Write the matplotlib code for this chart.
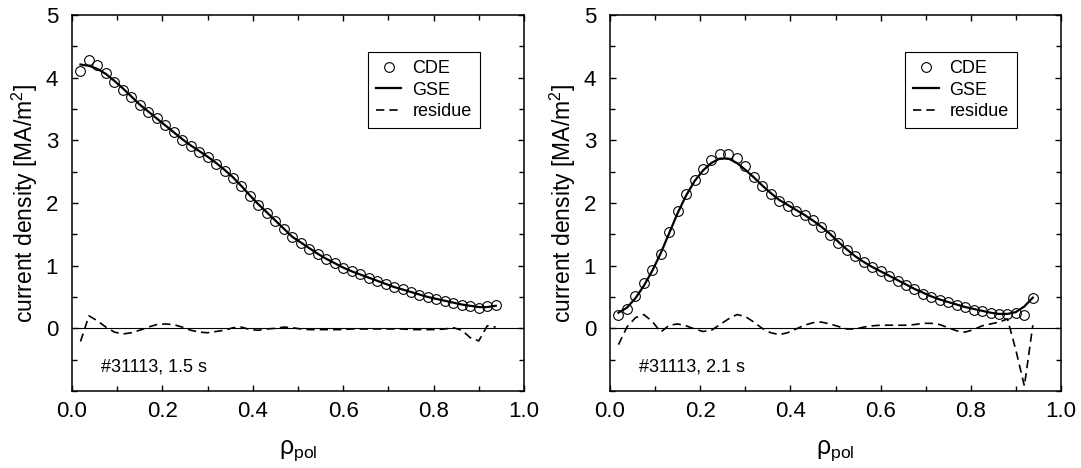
import numpy as np
import matplotlib
matplotlib.use("Agg")
import matplotlib.pyplot as plt
from matplotlib.ticker import MultipleLocator

plt.rcParams["font.family"] = ["Liberation Sans", "DejaVu Sans"]
plt.rcParams["mathtext.fontset"] = "custom"
plt.rcParams["mathtext.rm"] = "Liberation Sans"
plt.rcParams["mathtext.it"] = "Liberation Sans:italic"
plt.rcParams["mathtext.default"] = "regular"

# normalized poloidal flux radius grid (same for both time points)
rho = [0.0188, 0.0375, 0.0563, 0.0750, 0.0938, 0.1125, 0.1313, 0.1500, 0.1688, 0.1875,
       0.2063, 0.2250, 0.2438, 0.2625, 0.2813, 0.3000, 0.3188, 0.3375, 0.3563, 0.3750,
       0.3938, 0.4125, 0.4313, 0.4500, 0.4688, 0.4875, 0.5063, 0.5250, 0.5438, 0.5625,
       0.5813, 0.6000, 0.6188, 0.6375, 0.6563, 0.6750, 0.6938, 0.7125, 0.7313, 0.7500,
       0.7688, 0.7875, 0.8063, 0.8250, 0.8438, 0.8625, 0.8813, 0.9000, 0.9188, 0.9375]

# t = 1.5 s
cde_15 = [4.11, 4.28, 4.20, 4.07, 3.93, 3.80, 3.69, 3.56, 3.46, 3.35,
          3.24, 3.13, 3.01, 2.91, 2.82, 2.73, 2.63, 2.51, 2.40, 2.27,
          2.11, 1.97, 1.84, 1.71, 1.58, 1.45, 1.36, 1.27, 1.19, 1.11,
          1.04, 0.97, 0.91, 0.86, 0.81, 0.76, 0.71, 0.66, 0.62, 0.58,
          0.54, 0.50, 0.47, 0.44, 0.41, 0.38, 0.36, 0.33, 0.36, 0.37]
gse_15 = [4.21, 4.19, 4.14, 4.06, 3.95, 3.83, 3.70, 3.57, 3.46, 3.35,
          3.24, 3.13, 3.02, 2.92, 2.83, 2.74, 2.64, 2.53, 2.41, 2.27,
          2.12, 1.98, 1.85, 1.72, 1.59, 1.46, 1.37, 1.28, 1.19, 1.11,
          1.04, 0.97, 0.91, 0.86, 0.81, 0.76, 0.71, 0.66, 0.62, 0.58,
          0.54, 0.50, 0.47, 0.44, 0.41, 0.38, 0.36, 0.34, 0.34, 0.36]
res_15 = [-0.21, 0.20, 0.12, 0.02, -0.06, -0.09, -0.07, -0.03, 0.02, 0.06,
          0.07, 0.06, 0.02, -0.03, -0.06, -0.07, -0.05, -0.03, 0.01, 0.02,
          -0.02, -0.03, -0.01, 0.00, 0.02, 0.01, -0.01, -0.02, -0.02, -0.02,
          -0.02, -0.02, -0.01, -0.01, -0.01, -0.01, -0.01, -0.01, -0.01, -0.02,
          -0.02, -0.02, -0.02, -0.01, 0.01, -0.03, -0.15, -0.20, 0.04, 0.02]

# t = 2.1 s
cde_21 = [0.21, 0.31, 0.51, 0.72, 0.93, 1.18, 1.54, 1.87, 2.14, 2.36,
          2.54, 2.69, 2.78, 2.78, 2.72, 2.59, 2.42, 2.27, 2.14, 2.03,
          1.95, 1.88, 1.81, 1.73, 1.62, 1.49, 1.36, 1.25, 1.15, 1.06,
          0.98, 0.91, 0.84, 0.76, 0.69, 0.62, 0.55, 0.50, 0.46, 0.42,
          0.38, 0.34, 0.30, 0.27, 0.24, 0.23, 0.23, 0.24, 0.22, 0.49]
gse_21 = [0.25, 0.33, 0.48, 0.68, 0.92, 1.20, 1.52, 1.84, 2.12, 2.35,
          2.52, 2.64, 2.71, 2.71, 2.64, 2.53, 2.41, 2.28, 2.16, 2.05,
          1.97, 1.89, 1.81, 1.72, 1.62, 1.51, 1.38, 1.26, 1.15, 1.06,
          0.98, 0.91, 0.84, 0.77, 0.70, 0.63, 0.57, 0.51, 0.46, 0.42,
          0.38, 0.34, 0.31, 0.28, 0.25, 0.23, 0.23, 0.26, 0.35, 0.49]
res_21 = [-0.26, 0.02, 0.17, 0.22, 0.11, -0.06, 0.05, 0.07, 0.04, -0.01,
          -0.05, -0.03, 0.06, 0.15, 0.22, 0.19, 0.10, 0.00, -0.07, -0.10,
          -0.07, -0.01, 0.05, 0.09, 0.10, 0.07, 0.03, -0.01, -0.01, 0.02,
          0.04, 0.05, 0.05, 0.05, 0.05, 0.06, 0.08, 0.08, 0.06, 0.01,
          -0.04, -0.06, -0.02, 0.04, 0.07, 0.10, 0.15, -0.35, -0.92, 0.05]

labels = ["#31113, 1.5 s", "#31113, 2.1 s"]


def draw_panel(ax, cde, gse, res, label):
    ax.axhline(0, color="black", lw=0.8, zorder=1)
    ax.plot(rho, cde, "o", mfc="none", mec="black", ms=7, mew=0.8, label="CDE")
    ax.plot(rho, gse, "-", color="black", lw=1.6, label="GSE")
    ax.plot(rho, res, "--", color="black", lw=1.2, dashes=(5, 3), label="residue")

    ax.set_xlim(0, 1)
    ax.set_ylim(-1, 5)
    ax.xaxis.set_major_locator(MultipleLocator(0.2))
    ax.xaxis.set_minor_locator(MultipleLocator(0.1))
    ax.set_yticks([0, 1, 2, 3, 4, 5])
    ax.yaxis.set_minor_locator(MultipleLocator(0.5))
    ax.tick_params(which="both", direction="in", top=True, right=True, width=1)
    ax.tick_params(which="major", length=4)
    ax.tick_params(which="minor", length=3.5)
    ax.tick_params(axis="x", which="major", labelsize=16, pad=7)
    ax.tick_params(axis="y", which="major", labelsize=16, pad=10)
    for s in ax.spines.values():
        s.set_linewidth(1.1)

    ax.set_xlabel(r"$\rho_{pol}$", fontsize=18, labelpad=12)
    ax.set_ylabel("current density [MA/m$^2$]", fontsize=16.5, labelpad=4)
    ax.text(0.064, -0.69, label, fontsize=13, va="baseline")

    leg = ax.legend(loc="upper right", bbox_to_anchor=(0.902, 0.902), borderaxespad=0,
                    fontsize=13, numpoints=1, handlelength=1.4, handletextpad=0.6,
                    labelspacing=0.25, borderpad=0.45, fancybox=False, framealpha=1,
                    edgecolor="black")
    leg.get_frame().set_linewidth(0.8)


fig = plt.figure(figsize=(10.81, 4.68), dpi=100)
ax1 = fig.add_axes([0.0666, 0.1645, 0.4181, 0.8034])
ax2 = fig.add_axes([0.5643, 0.1645, 0.4172, 0.8034])

draw_panel(ax1, cde_15, gse_15, res_15, labels[0])
draw_panel(ax2, cde_21, gse_21, res_21, labels[1])

fig.savefig("out.png", dpi=100)
